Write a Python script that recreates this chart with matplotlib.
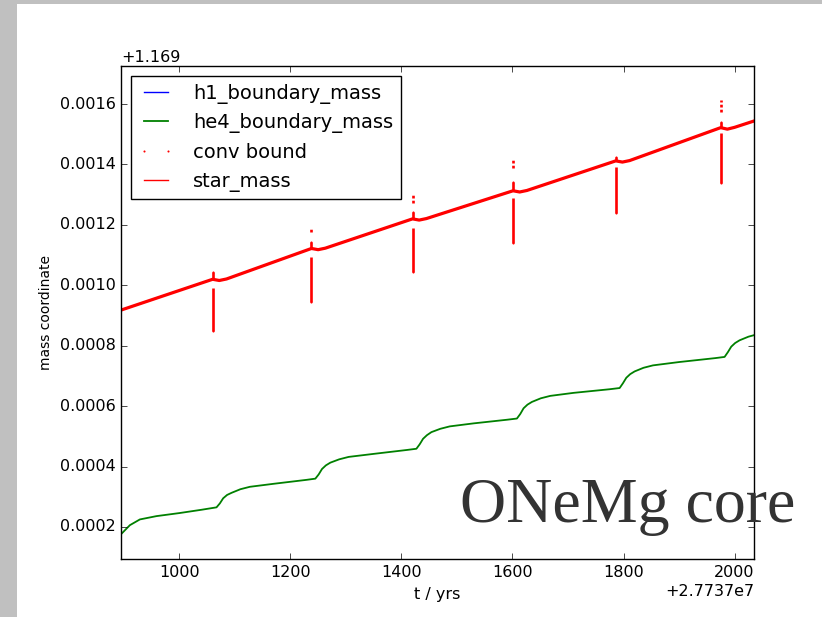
import matplotlib
matplotlib.use('Agg')
import matplotlib.pyplot as plt
from matplotlib.patches import Rectangle
from matplotlib.ticker import ScalarFormatter, MultipleLocator
import numpy as np

plt.style.use('classic')
plt.rcParams['font.family'] = ['DejaVu Sans']

# ── offsets of the axes ──
T0 = 2.7737e7
M0 = 1.169

# ── star_mass (h1_boundary_mass lies under it), relative to offsets ──
star_t = [895, 1060, 1072, 1085, 1238, 1250, 1263, 1420, 1432, 1445,
          1601, 1613, 1626, 1786, 1798, 1811, 1975, 1987, 2000, 2035]
star_m = [0.000918, 0.001020, 0.001016, 0.001021, 0.001122, 0.001118, 0.001123,
          0.001220, 0.001216, 0.001221, 0.001313, 0.001309, 0.001314,
          0.001412, 0.001408, 0.001413, 0.001522, 0.001517, 0.001523, 0.001544]

# ── he4_boundary_mass ──
he4_t = [895, 911, 929, 959, 1000, 1040, 1067, 1073, 1079, 1086, 1094, 1110, 1127,
         1170, 1229, 1245, 1251, 1257, 1264, 1272, 1288, 1305, 1350, 1410, 1427,
         1433, 1439, 1446, 1454, 1470, 1487, 1530, 1590, 1608,
         1614, 1620, 1627, 1635, 1651, 1668, 1710, 1775, 1793,
         1799, 1805, 1812, 1820, 1836, 1853, 1900, 1965, 1982,
         1988, 1994, 2001, 2009, 2025, 2035]
he4_m = [0.000176, 0.000206, 0.000225, 0.000236, 0.000246, 0.000257, 0.000265,
         0.000278, 0.000295, 0.000306, 0.000313, 0.000325, 0.000333,
         0.000343, 0.000356, 0.000360, 0.000374, 0.000392, 0.000404, 0.000413,
         0.000424, 0.000432, 0.000442, 0.000455, 0.000459,
         0.000474, 0.000492, 0.000504, 0.000514, 0.000525, 0.000533, 0.000543,
         0.000555, 0.000559,
         0.000574, 0.000593, 0.000605, 0.000614, 0.000626, 0.000634, 0.000644,
         0.000656, 0.000660,
         0.000676, 0.000694, 0.000706, 0.000715, 0.000727, 0.000735, 0.000746,
         0.000759, 0.000763,
         0.000779, 0.000797, 0.000809, 0.000818, 0.000830, 0.000835]

# ── conv bound: vertical runs of points at each pulse ──
pulse_t = [1060, 1238, 1420, 1601, 1786, 1975]
pulse_line = [0.001020, 0.001122, 0.001220, 0.001313, 0.001412, 0.001522]
spike_top = [0.001045, 0.001144, 0.001243, 0.001343, 0.001426, 0.001541]
lower_top = [0.000991, 0.001094, 0.001190, 0.001288, 0.001392, 0.001503]
lower_bot = [0.000848, 0.000944, 0.001045, 0.001139, 0.001238, 0.001340]
dot_top = [np.nan, 0.001190, 0.001304, 0.001420, np.nan, 0.001613]
dot_bot = [np.nan, 0.001176, 0.001273, 0.001387, np.nan, 0.001575]

st = np.array(star_t) + T0
sm = np.array(star_m) + M0
ht = np.array(he4_t) + T0
hm = np.array(he4_m) + M0
pt = np.array(pulse_t) + T0

fig = plt.figure(figsize=(8.22, 6.17), dpi=100, facecolor='white')
fig.patches.append(Rectangle((0, 0), 17 / 822, 1, transform=fig.transFigure,
                             facecolor='#c0c0c0', edgecolor='none', zorder=0))
fig.patches.append(Rectangle((0, 1 - 4 / 617), 1, 4 / 617, transform=fig.transFigure,
                             facecolor='#c0c0c0', edgecolor='none', zorder=0))

ax = fig.add_axes([0.1472, 0.094, 0.7701, 0.799])
ax.set_facecolor('white')

ax.plot(st, sm, color='b', lw=1.0, label='h1_boundary_mass')
ax.plot(ht, hm, color='g', lw=1.3, label='he4_boundary_mass')

# conv bound points: along the surface and in runs at each pulse
conv_x = np.concatenate([pt, pt])
conv_y = np.concatenate([np.array(lower_bot), np.array(spike_top)]) + M0
ax.plot(conv_x, conv_y, 'r.', markersize=3, markeredgewidth=0, label='conv bound')
ax.plot(st, sm, color='r', lw=2.3)
ax.vlines(pt, np.array(lower_bot) + M0, np.array(lower_top) + M0, colors='r', lw=1.9)
ax.vlines(pt, np.array(pulse_line) + M0, np.array(spike_top) + M0, colors='r', lw=1.9)
ax.vlines(pt, np.array(dot_bot) + M0, np.array(dot_top) + M0, colors='r', lw=1.9,
          linestyles=(0, (2.0, 1.6)))

ax.plot(st, sm, color='r', lw=1.0, label='star_mass')

ax.set_xlim(895 + T0, 2035 + T0)
ax.set_ylim(0.000094 + M0, 0.001726 + M0)
ax.xaxis.set_major_locator(MultipleLocator(200))
ax.yaxis.set_major_locator(MultipleLocator(0.0002))
ax.xaxis.set_major_formatter(ScalarFormatter(useOffset=T0))
ax.yaxis.set_major_formatter(ScalarFormatter(useOffset=M0))
ax.tick_params(labelsize=11.5)
ax.xaxis.get_offset_text().set_fontsize(11.5)
ax.yaxis.get_offset_text().set_fontsize(11.5)

ax.set_xlabel('t / yrs', fontsize=11.5)
ax.set_ylabel('mass coordinate', fontsize=10)

ax.legend(loc='upper left', fontsize=14, numpoints=2, handlelength=1.8,
          handletextpad=1.0, borderaxespad=0.5, labelspacing=0.5)

fig.text(0.5596, 0.154, 'ONeMg core', family='Liberation Serif', size=46,
         color='#333333')

plt.savefig('out.png', dpi=100, facecolor='white')
plt.close()
